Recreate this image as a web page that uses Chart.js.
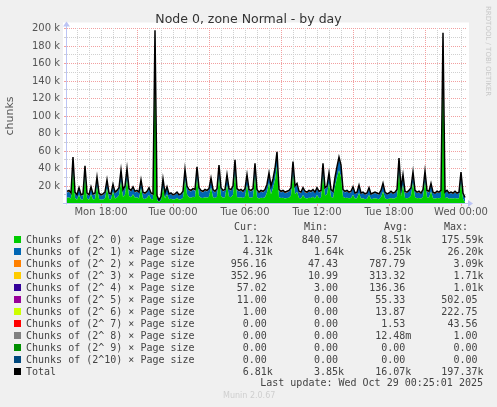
<!DOCTYPE html>
<html>
<head>
<meta charset="utf-8">
<script src="https://cdn.jsdelivr.net/npm/chart.js@4.4.0/dist/chart.umd.min.js"></script>
<style>
  html, body { margin: 0; padding: 0; background: #f0f0f0; }
  #wrap { position: relative; width: 497px; height: 407px; overflow: hidden; }
  #chart { position: absolute; left: 0; top: 0; }
  .txt { position: absolute; height: 12px; line-height: 12px; font: 10px 'DejaVu Sans Mono', monospace; color: #444; white-space: pre; }
  .sw { position: absolute; width: 7px; height: 7px; }
  #munin { position: absolute; left: 223px; top: 391px; font: 8px 'DejaVu Sans', sans-serif; color: #cfcfcf; }
</style>
</head>
<body>
<div id="wrap">
  <canvas id="chart" width="497" height="407"></canvas>
  <div id="legend"></div>
  <div id="munin">Munin 2.0.67</div>
</div>
<script>
// samples every 10 minutes, from Mon 15:10 to Wed 00:20 (hours since Mon 00:00)
const startHour = 15 + 10 / 60;
const stepHours = 10 / 60;

// values in thousands of chunks
const totalK = [
  14, 15, 12, 53, 13, 10, 18, 10, 11, 43,
  12, 10, 19, 11, 12, 30, 12, 10, 11, 13,
  27, 12, 11, 22, 13, 15, 18, 38, 16, 20,
  40, 17, 15, 19, 14, 15, 13, 27, 13, 12,
  14, 18, 12, 11, 198, 9, 4, 8, 28, 12,
  19, 11, 12, 10, 11, 13, 10, 11, 14, 39,
  20, 16, 15, 17, 16, 42, 18, 15, 14, 16,
  15, 17, 29, 16, 14, 17, 44, 18, 15, 16,
  33, 17, 16, 20, 50, 17, 15, 16, 14, 17,
  33, 16, 15, 17, 46, 16, 13, 15, 14, 16,
  22, 35, 20, 28, 40, 59, 16, 14, 15, 13,
  14, 15, 18, 48, 20, 23, 14, 13, 18, 14,
  13, 15, 14, 16, 13, 18, 14, 15, 46, 18,
  20, 35, 16, 14, 30, 42, 53, 44, 16, 14,
  15, 13, 14, 19, 12, 13, 21, 12, 13, 11,
  12, 18, 11, 12, 13, 12, 11, 15, 23, 13,
  11, 12, 14, 12, 13, 16, 52, 17, 33, 14,
  13, 15, 18, 36, 15, 13, 14, 12, 16, 37,
  15, 14, 23, 13, 12, 14, 13, 15, 195, 13,
  15, 12, 13, 12, 14, 12, 13, 36, 12, 6.81
];

const order0K = [
  6.6, 7.0, 5.7, 38.8, 6.2, 4.4, 10.1, 4.4, 4.7, 31.1,
  5.7, 4.4, 10.6, 4.7, 5.2, 20.4, 5.2, 4.4, 4.7, 5.6,
  17.4, 5.2, 4.7, 13.6, 5.6, 7.0, 9.5, 26.0, 7.5, 10.3,
  28.0, 8.5, 7.1, 10.5, 6.6, 7.1, 5.7, 17.4, 5.7, 5.2,
  6.7, 9.6, 5.2, 4.9, 175.5, 4.0, 1.7, 3.6, 18.5, 5.8,
  10.7, 4.9, 5.3, 4.5, 4.9, 6.2, 4.5, 4.9, 6.7, 27.4,
  10.6, 7.1, 6.7, 7.6, 7.1, 29.3, 8.5, 6.6, 6.2, 7.1,
  6.7, 7.6, 18.4, 7.1, 6.2, 7.6, 30.1, 8.5, 6.6, 7.1,
  21.4, 7.6, 7.1, 10.0, 35.0, 7.5, 6.6, 7.1, 6.2, 7.6,
  21.4, 7.1, 6.6, 7.5, 32.1, 7.1, 5.7, 6.6, 6.2, 7.1,
  12.6, 23.3, 10.5, 17.4, 27.1, 42.8, 7.1, 6.2, 6.6, 5.7,
  6.2, 6.6, 9.1, 34.1, 10.5, 13.4, 6.2, 5.7, 9.6, 6.2,
  5.8, 6.7, 6.2, 7.6, 5.8, 9.6, 6.2, 6.7, 32.1, 9.1,
  10.5, 23.3, 7.6, 6.2, 19.4, 29.3, 38.0, 30.1, 7.6, 6.2,
  6.7, 5.9, 6.2, 10.1, 5.4, 5.9, 12.0, 5.4, 5.9, 5.0,
  5.4, 9.7, 5.0, 5.4, 5.9, 5.4, 5.0, 7.2, 13.6, 5.9,
  5.0, 5.4, 6.2, 5.4, 5.9, 7.7, 37.0, 8.1, 21.3, 6.2,
  5.9, 6.7, 9.1, 24.3, 7.2, 5.9, 6.2, 5.4, 7.7, 25.3,
  7.2, 6.7, 13.6, 5.9, 5.4, 6.2, 5.9, 6.7, 174.5, 5.9,
  7.2, 5.4, 5.9, 5.4, 6.2, 5.4, 5.9, 24.4, 5.4, 1.12
];

const order1K = [
  6, 6.5, 5, 12, 5.5, 4.5, 6.5, 4.5, 5, 10,
  5, 4.5, 7, 5, 5.5, 8, 5.5, 4.5, 5, 6,
  8, 5.5, 5, 7, 6, 6.5, 7, 10, 7, 8,
  10, 7, 6.5, 7, 6, 6.5, 6, 8, 6, 5.5,
  6, 7, 5.5, 5, 20, 4, 1.8, 3.5, 8, 5,
  7, 5, 5.5, 4.5, 5, 5.5, 4.5, 5, 6, 10,
  8, 7.5, 7, 8, 7.5, 11, 8, 7, 6.5, 7.5,
  7, 8, 9, 7.5, 6.5, 8, 12, 8, 7, 7.5,
  10, 8, 7.5, 8.5, 13, 8, 7, 7.5, 6.5, 8,
  10, 7.5, 7, 8, 12, 7.5, 6, 7, 6.5, 7.5,
  8, 10, 8, 9, 11, 14, 7.5, 6.5, 7, 6,
  6.5, 7, 7.5, 12, 8, 8, 6.5, 6, 7, 6.5,
  6, 7, 6.5, 7, 6, 7, 6.5, 7, 12, 7.5,
  8, 10, 7, 6.5, 9, 11, 13, 12, 7, 6.5,
  7, 6, 6.5, 7.5, 5.5, 6, 7.5, 5.5, 6, 5,
  5.5, 7, 5, 5.5, 6, 5.5, 5, 6.5, 8, 6,
  5, 5.5, 6.5, 5.5, 6, 7, 13, 7.5, 10, 6.5,
  6, 7, 7.5, 10, 6.5, 6, 6.5, 5.5, 7, 10,
  6.5, 6, 8, 6, 5.5, 6.5, 6, 7, 18, 6,
  6.5, 5.5, 6, 5.5, 6.5, 5.5, 6, 10, 5.5, 4.31
];

const order2K = [
  0.9, 1.0, 0.8, 1.4, 0.8, 0.7, 0.9, 0.7, 0.8, 1.2,
  0.8, 0.7, 0.9, 0.8, 0.8, 1.0, 0.8, 0.7, 0.8, 0.9,
  1.0, 0.8, 0.8, 0.9, 0.9, 1.0, 1.0, 1.3, 1.0, 1.1,
  1.3, 1.0, 0.9, 1.0, 0.9, 0.9, 0.8, 1.0, 0.8, 0.8,
  0.8, 0.9, 0.8, 0.7, 1.5, 0.6, 0.2, 0.5, 0.9, 0.7,
  0.8, 0.7, 0.7, 0.6, 0.7, 0.8, 0.6, 0.7, 0.8, 1.0,
  0.9, 0.9, 0.8, 0.9, 0.9, 1.1, 1.0, 0.9, 0.8, 0.9,
  0.8, 0.9, 1.0, 0.9, 0.8, 0.9, 1.2, 1.0, 0.9, 0.9,
  1.0, 0.9, 0.9, 1.0, 1.3, 1.0, 0.9, 0.9, 0.8, 0.9,
  1.0, 0.9, 0.9, 1.0, 1.2, 0.9, 0.8, 0.9, 0.8, 0.9,
  0.9, 1.1, 1.0, 1.0, 1.2, 1.4, 0.9, 0.8, 0.9, 0.8,
  0.8, 0.9, 0.9, 1.2, 1.0, 1.0, 0.8, 0.8, 0.9, 0.8,
  0.7, 0.8, 0.8, 0.9, 0.7, 0.9, 0.8, 0.8, 1.2, 0.9,
  1.0, 1.1, 0.9, 0.8, 1.0, 1.1, 1.3, 1.2, 0.9, 0.8,
  0.8, 0.7, 0.8, 0.9, 0.7, 0.7, 0.9, 0.7, 0.7, 0.6,
  0.7, 0.8, 0.6, 0.7, 0.7, 0.7, 0.6, 0.8, 0.9, 0.7,
  0.6, 0.7, 0.8, 0.7, 0.7, 0.8, 1.3, 0.9, 1.1, 0.8,
  0.7, 0.8, 0.9, 1.1, 0.8, 0.7, 0.8, 0.7, 0.8, 1.1,
  0.8, 0.8, 0.9, 0.7, 0.7, 0.8, 0.7, 0.8, 1.5, 0.7,
  0.8, 0.7, 0.7, 0.7, 0.8, 0.7, 0.7, 1.0, 0.7, 0.96
];

const order3K = [
  0.3, 0.35, 0.3, 0.6, 0.3, 0.25, 0.3, 0.25, 0.3, 0.5,
  0.3, 0.25, 0.3, 0.3, 0.3, 0.4, 0.3, 0.25, 0.3, 0.3,
  0.4, 0.3, 0.3, 0.35, 0.3, 0.35, 0.35, 0.5, 0.35, 0.4,
  0.5, 0.35, 0.3, 0.35, 0.3, 0.3, 0.3, 0.4, 0.3, 0.3,
  0.3, 0.35, 0.3, 0.25, 0.8, 0.2, 0.1, 0.2, 0.4, 0.3,
  0.3, 0.25, 0.3, 0.25, 0.25, 0.3, 0.25, 0.25, 0.3, 0.4,
  0.35, 0.3, 0.3, 0.35, 0.3, 0.45, 0.35, 0.3, 0.3, 0.35,
  0.3, 0.35, 0.4, 0.3, 0.3, 0.35, 0.5, 0.35, 0.3, 0.3,
  0.4, 0.35, 0.3, 0.35, 0.5, 0.35, 0.3, 0.3, 0.3, 0.35,
  0.4, 0.3, 0.3, 0.35, 0.5, 0.3, 0.3, 0.3, 0.3, 0.3,
  0.35, 0.45, 0.35, 0.4, 0.5, 0.6, 0.3, 0.3, 0.3, 0.3,
  0.3, 0.3, 0.35, 0.5, 0.35, 0.4, 0.3, 0.3, 0.3, 0.3,
  0.3, 0.3, 0.3, 0.3, 0.3, 0.3, 0.3, 0.3, 0.5, 0.3,
  0.35, 0.45, 0.3, 0.3, 0.4, 0.45, 0.5, 0.5, 0.3, 0.3,
  0.3, 0.25, 0.3, 0.3, 0.25, 0.25, 0.35, 0.25, 0.25, 0.25,
  0.25, 0.3, 0.25, 0.25, 0.25, 0.25, 0.25, 0.3, 0.35, 0.25,
  0.25, 0.25, 0.3, 0.25, 0.25, 0.3, 0.5, 0.3, 0.4, 0.3,
  0.25, 0.3, 0.3, 0.45, 0.3, 0.25, 0.3, 0.25, 0.3, 0.45,
  0.3, 0.3, 0.35, 0.25, 0.25, 0.3, 0.25, 0.3, 0.8, 0.25,
  0.3, 0.25, 0.25, 0.25, 0.3, 0.25, 0.25, 0.4, 0.25, 0.35
];

// legend table
const seriesNames = [
  'Chunks of (2^ 0) \u00d7 Page size', 'Chunks of (2^ 1) \u00d7 Page size',
  'Chunks of (2^ 2) \u00d7 Page size', 'Chunks of (2^ 3) \u00d7 Page size',
  'Chunks of (2^ 4) \u00d7 Page size', 'Chunks of (2^ 5) \u00d7 Page size',
  'Chunks of (2^ 6) \u00d7 Page size', 'Chunks of (2^ 7) \u00d7 Page size',
  'Chunks of (2^ 8) \u00d7 Page size', 'Chunks of (2^ 9) \u00d7 Page size',
  'Chunks of (2^10) \u00d7 Page size', 'Total'
];
const seriesColors = [
  '#00cc00', '#0066b3', '#ff8000', '#ffcc00', '#330099', '#990099',
  '#ccff00', '#ff0000', '#808080', '#008f00', '#00487d', '#000000'
];
const curVals = ['1.12k', '4.31k', '956.16', '352.96', '57.02', '11.00', '1.00', '0.00', '0.00', '0.00', '0.00', '6.81k'];
const minVals = ['840.57', '1.64k', '47.43', '10.99', '3.00', '0.00', '0.00', '0.00', '0.00', '0.00', '0.00', '3.85k'];
const avgVals = ['8.51k', '6.25k', '787.79', '313.32', '136.36', '55.33', '13.87', '1.53', '12.48m', '0.00', '0.00', '16.07k'];
const maxVals = ['175.59k', '26.20k', '3.09k', '1.71k', '1.01k', '502.05', '222.75', '43.56', '1.00', '0.00', '0.00', '197.37k'];
const dayNames = ['Mon', 'Tue', 'Wed'];

const times = totalK.map((_, i) => startHour + i * stepHours);
const pts = arr => arr.map((v, i) => ({ x: times[i], y: v }));

const majorGrid = 'rgb(242,160,160)';
const minorGrid = 'rgb(208,208,208)';
const axisColor = '#bcc4f4';

const area = (label, arr, color, fill) => ({
  label, data: pts(arr), backgroundColor: color, borderWidth: 0,
  fill, pointRadius: 0, tension: 0, stack: 'chunks', yAxisID: 'y'
});

const seg = (ctx, x1, y1, x2, y2) => { ctx.beginPath(); ctx.moveTo(x1, y1); ctx.lineTo(x2, y2); ctx.stroke(); };

// rrdtool look: grey page, white canvas, dotted grid, axis arrows
const frame = {
  id: 'frame',
  beforeDraw(chart) {
    const { ctx, chartArea: a } = chart;
    ctx.save();
    ctx.fillStyle = '#f0f0f0';
    ctx.fillRect(0, 0, chart.width, chart.height);
    ctx.fillStyle = '#ffffff';
    ctx.fillRect(a.left - 4, a.top - 6, a.right - a.left + 7, a.bottom - a.top + 7);
    ctx.restore();
  },
  beforeDatasetsDraw(chart) {
    const { ctx, chartArea: a, scales: { x, y } } = chart;
    const top = Math.floor(a.top), bottom = Math.floor(a.bottom);
    ctx.save();
    ctx.lineWidth = 1;
    y.ticks.forEach(t => {
      if (t.value === 0) return;
      const py = Math.floor(y.getPixelForValue(t.value)) + 0.5;
      ctx.strokeStyle = t.value % 20 === 0 ? majorGrid : minorGrid;
      ctx.setLineDash([1, 1]);
      seg(ctx, a.left, py, a.right, py);
      ctx.setLineDash([]);
      seg(ctx, a.left - 3, py, a.left, py);
    });
    x.ticks.forEach(t => {
      const h = Math.round(t.value);
      const px = Math.floor(x.getPixelForValue(t.value)) + 0.5;
      ctx.strokeStyle = (h - 21) % 6 === 0 ? majorGrid : minorGrid;
      ctx.setLineDash([1, 1]);
      seg(ctx, px, top, px, bottom);
      if (h % 6 === 0) {
        ctx.setLineDash([]);
        ctx.strokeStyle = majorGrid;
        seg(ctx, px, bottom, px, bottom + 3);
      }
    });
    ctx.restore();
  },
  afterDatasetsDraw(chart) {
    const { ctx, chartArea: a } = chart;
    const x0 = Math.round(a.left) - 0.5, y0 = Math.round(a.bottom) - 0.5;
    ctx.save();
    ctx.strokeStyle = axisColor;
    ctx.fillStyle = axisColor;
    ctx.lineWidth = 1;
    seg(ctx, x0, y0 + 1, x0, a.top - 4);
    seg(ctx, a.left - 4, y0, a.right + 3, y0);
    ctx.beginPath();
    ctx.moveTo(x0 - 3.5, a.top - 2); ctx.lineTo(x0 + 3.5, a.top - 2); ctx.lineTo(x0, a.top - 7);
    ctx.closePath(); ctx.fill();
    ctx.beginPath();
    ctx.moveTo(a.right + 2, y0 - 3.5); ctx.lineTo(a.right + 2, y0 + 3.5); ctx.lineTo(a.right + 7, y0);
    ctx.closePath(); ctx.fill();
    ctx.restore();
  },
  afterDraw(chart) {
    const ctx = chart.ctx;
    ctx.save();
    ctx.translate(486, 6);
    ctx.rotate(Math.PI / 2);
    ctx.font = '7px "DejaVu Sans"';
    ctx.fillStyle = '#c8c8c8';
    ctx.textBaseline = 'alphabetic';
    ctx.fillText('RRDTOOL / TOBI OETIKER', 0, 0);
    ctx.restore();
  }
};

new Chart(document.getElementById('chart'), {
  type: 'line',
  data: {
    datasets: [
      { label: 'Total', data: pts(totalK), borderColor: '#000000', borderWidth: 1.5,
        fill: false, pointRadius: 0, tension: 0, stack: 'total', yAxisID: 'y' },
      area(seriesNames[0], order0K, seriesColors[0], 'origin'),
      area(seriesNames[1], order1K, seriesColors[1], '-1'),
      area(seriesNames[2], order2K, seriesColors[2], '-1'),
      area(seriesNames[3], order3K, seriesColors[3], '-1')
    ]
  },
  options: {
    responsive: false,
    animation: false,
    devicePixelRatio: 1,
    layout: { padding: { left: 0, right: 0, top: 0, bottom: 183.5 } },
    plugins: {
      legend: { display: false },
      tooltip: { enabled: false },
      title: {
        display: true,
        text: 'Node 0, zone Normal - by day',
        color: '#333',
        font: { family: 'DejaVu Sans', size: 12.5, weight: 'normal' },
        padding: { top: 12, bottom: 1.5 }
      }
    },
    scales: {
      x: {
        type: 'linear',
        min: startHour,
        max: 48 + 25 / 60,
        afterFit: s => { s.height = 20; },
        border: { display: false },
        grid: { display: false, drawTicks: false },
        ticks: {
          stepSize: 1,
          includeBounds: false,
          autoSkip: false,
          maxRotation: 0,
          padding: 3,
          color: '#555',
          font: { family: 'DejaVu Sans', size: 10 },
          callback: v => {
            const h = Math.round(v);
            if (h % 6 !== 0) return '';
            const hh = h % 24;
            return dayNames[Math.floor(h / 24)] + ' ' + (hh < 10 ? '0' : '') + hh + ':00';
          }
        }
      },
      y: {
        stacked: true,
        min: 0,
        max: 200,
        afterFit: s => { s.width = 67; },
        border: { display: false },
        grid: { display: false, drawTicks: false },
        title: {
          display: true, text: 'chunks', color: '#555',
          font: { family: 'DejaVu Sans', size: 11 },
          padding: { top: 4, bottom: 0 }
        },
        ticks: {
          stepSize: 10,
          autoSkip: false,
          padding: 7,
          color: '#555',
          font: { family: 'DejaVu Sans', size: 10 },
          callback: v => (v > 0 && v % 20 === 0) ? v + ' k' : ''
        }
      },
      // empty right-hand strip so the plot ends where rrdtool's does
      side: {
        type: 'linear',
        position: 'right',
        afterFit: s => { s.width = 31; },
        border: { display: false },
        grid: { display: false, drawTicks: false },
        ticks: { display: false }
      }
    }
  },
  plugins: [frame]
});

// legend below the graph, laid out like the rrdtool legend
const legend = document.getElementById('legend');
const addText = (text, cy, opts) => {
  const d = document.createElement('div');
  d.className = 'txt';
  d.textContent = text;
  d.style.top = (cy - 6) + 'px';
  if (opts.left !== undefined) d.style.left = opts.left + 'px';
  if (opts.right !== undefined) { d.style.right = (497 - opts.right) + 'px'; d.style.textAlign = 'right'; }
  legend.appendChild(d);
};
const fmt = s => /[km]$/.test(s) ? s : s + ' ';
const colRight = [272.8, 344, 411.3, 483.5];
const headRight = [258, 328, 408, 468];
['Cur:', 'Min:', 'Avg:', 'Max:'].forEach((h, j) => addText(h, 227, { right: headRight[j] }));
seriesNames.forEach((name, i) => {
  const cy = 239.5 + i * 12;
  const sw = document.createElement('div');
  sw.className = 'sw';
  sw.style.left = '14px';
  sw.style.top = (cy - 3.5) + 'px';
  sw.style.background = seriesColors[i];
  legend.appendChild(sw);
  addText(name, cy, { left: 26 });
  [curVals, minVals, avgVals, maxVals].forEach((col, j) => addText(fmt(col[i]), cy, { right: colRight[j] }));
});
addText('Last update: Wed Oct 29 00:25:01 2025', 383, { right: 483 });
</script>
</body>
</html>
